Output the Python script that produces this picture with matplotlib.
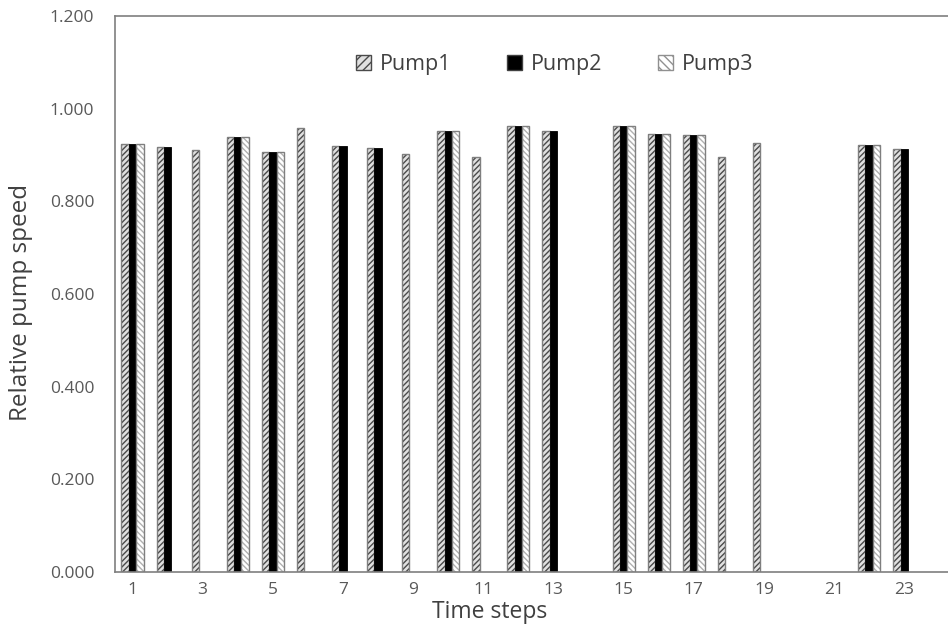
import numpy as np
import matplotlib
matplotlib.use('Agg')
import matplotlib.pyplot as plt
from matplotlib.patches import Patch

# data (0 = pump off)
steps = np.arange(1, 25)
pump1 = [0.924, 0.918, 0.910, 0.940, 0.906, 0.958, 0.919, 0.915, 0.902, 0.952,
         0.895, 0.963, 0.952, 0.0, 0.963, 0.945, 0.944, 0.895, 0.927, 0.0,
         0.0, 0.922, 0.913, 0.0]
pump2 = [0.924, 0.918, 0.0, 0.940, 0.906, 0.0, 0.919, 0.915, 0.0, 0.952,
         0.0, 0.963, 0.952, 0.0, 0.963, 0.945, 0.944, 0.0, 0.0, 0.0,
         0.0, 0.922, 0.913, 0.0]
pump3 = [0.924, 0.0, 0.0, 0.940, 0.906, 0.0, 0.0, 0.0, 0.0, 0.952,
         0.0, 0.963, 0.0, 0.0, 0.963, 0.945, 0.944, 0.0, 0.0, 0.0,
         0.0, 0.922, 0.0, 0.0]
yticks = [0.0, 0.2, 0.4, 0.6, 0.8, 1.0, 1.2]
xtick_steps = [1, 3, 5, 7, 9, 11, 13, 15, 17, 19, 21, 23]

plt.rcParams['font.family'] = ['Open Sans', 'DejaVu Sans']
plt.rcParams['hatch.linewidth'] = 1.0

fig = plt.figure(figsize=(9.48, 6.26), dpi=100)
# plot area runs past the right edge of the picture, as in the reference
ax = fig.add_axes([0.1213, 0.0863, 0.888, 0.888])

w = 0.21
edge = '#7f7f7f'
p1 = [v if v > 0 else np.nan for v in pump1]
p2 = [v if v > 0 else np.nan for v in pump2]
p3 = [v if v > 0 else np.nan for v in pump3]

ax.bar(steps - w, p1, w, facecolor='#e0e0e0', edgecolor='#4a4a4a',
       hatch='//////', linewidth=0)
ax.bar(steps - w, p1, w, fill=False, edgecolor=edge, linewidth=1.0)
ax.bar(steps, p2, w, facecolor='black', edgecolor='black', linewidth=0.6)
ax.bar(steps + w, p3, w, facecolor='white', edgecolor='#b0b0b0',
       hatch='\\\\\\\\\\\\', linewidth=0)
ax.bar(steps + w, p3, w, fill=False, edgecolor=edge, linewidth=1.0)

ax.set_xlim(0.5, 24.5)
ax.set_ylim(0, 1.2)
ax.set_yticks(yticks)
ax.set_yticklabels(['%.3f' % t for t in yticks])
ax.set_xticks(xtick_steps)
ax.set_xticklabels([str(s) for s in xtick_steps])
ax.tick_params(axis='both', length=0, labelsize=12.5, colors='#595959')
ax.tick_params(axis='x', pad=7)
ax.tick_params(axis='y', pad=15)

for s in ax.spines.values():
    s.set_color('#7f7f7f')
    s.set_linewidth(1.2)

ax.set_xlabel('Time steps', fontsize=16.5, color='#404040')
ax.xaxis.set_label_coords(0.4455, -0.051)
ax.set_ylabel('Relative pump speed', fontsize=17.5, color='#404040')
ax.yaxis.set_label_coords(-0.097, 0.485)

# legend handles with solid outline
h1 = Patch(facecolor='#e0e0e0', edgecolor='#4a4a4a', hatch='////', linewidth=1)
h2 = Patch(facecolor='black', edgecolor='#404040', linewidth=1)
h3 = Patch(facecolor='white', edgecolor='#909090', hatch='\\\\\\\\', linewidth=1)
leg = ax.legend([h1, h2, h3], ['Pump1', 'Pump2', 'Pump3'], ncol=3,
                frameon=False, loc='upper center', bbox_to_anchor=(0.522, 0.966),
                fontsize=15.5, handlelength=0.7, handleheight=0.7,
                handletextpad=0.4, columnspacing=2.6)
for t in leg.get_texts():
    t.set_color('#404040')

fig.savefig('out.png', dpi=100)
